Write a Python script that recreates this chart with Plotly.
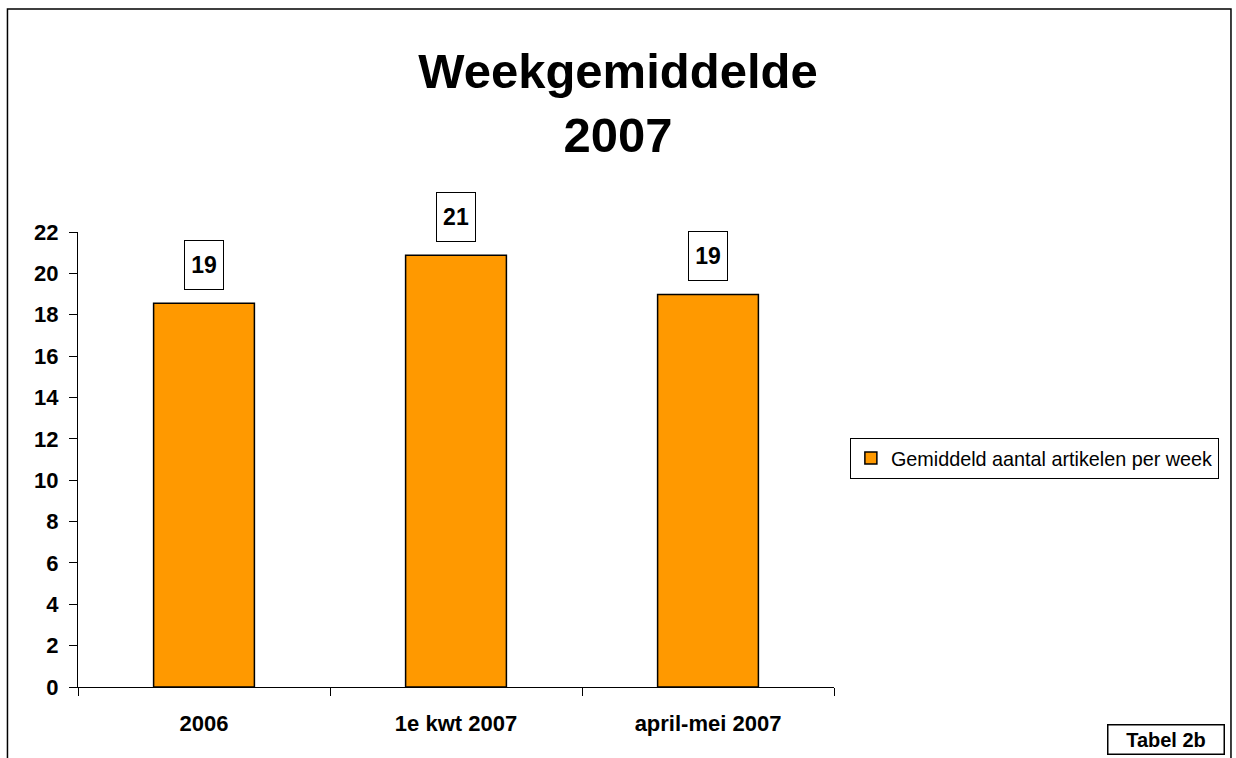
import plotly.graph_objects as go

categories = ["2006", "1e kwt 2007", "april-mei 2007"]
values = [18.56, 20.88, 18.98]
labels = [str(round(v)) for v in values]
series_name = "Gemiddeld aantal artikelen per week"
y_ticks = list(range(0, 23, 2))

FONT = "Liberation Sans, Arial, sans-serif"

fig = go.Figure()
fig.add_trace(go.Bar(
    x=categories, y=values, name=series_name, width=0.4,
    marker=dict(color="#FF9900", line=dict(color="black", width=1.5)),
    showlegend=True,
))

for i, (v, t) in enumerate(zip(values, labels)):
    fig.add_annotation(
        x=i, y=v, text="<b>%s</b>" % t, showarrow=False,
        yanchor="bottom", yshift=13, width=36, height=46,
        bordercolor="black", borderwidth=1, bgcolor="white",
        font=dict(family=FONT, size=23, color="black"),
    )

fig.add_annotation(
    xref="paper", yref="paper", x=1.4385, y=-0.1143,
    text="<b>Tabel 2b</b>", showarrow=False,
    xanchor="center", yanchor="middle", width=113, height=26,
    bordercolor="black", borderwidth=1.5, bgcolor="white",
    font=dict(family=FONT, size=20, color="black"),
)

fig.add_shape(type="rect", xref="paper", yref="paper",
              x0=-0.0933, x1=1.5251, y0=-0.3, y1=1.4901,
              line=dict(color="black", width=1.5), layer="below")

fig.update_layout(
    width=1236, height=758,
    margin=dict(l=78, r=402, t=232, b=71),
    paper_bgcolor="white", plot_bgcolor="white",
    font=dict(family=FONT, color="black"),
    title=dict(text="<b>Weekgemiddelde<br>2007</b>", x=0.5, xref="container",
               xanchor="center", y=0.884, yref="container", yanchor="top",
               font=dict(family=FONT, size=49, color="black")),
    legend=dict(x=1.021, xanchor="left", y=0.503, yanchor="middle",
                bordercolor="black", borderwidth=1, bgcolor="white",
                font=dict(family=FONT, size=19.8, color="black")),
)
fig.update_xaxes(
    type="category", categoryorder="array", categoryarray=categories,
    range=[-0.5, len(categories) - 0.5], automargin=False, tickangle=0,
    showline=True, linecolor="black", linewidth=1,
    ticks="outside", ticklen=8, tickcolor="black", tickson="boundaries",
    showgrid=False, ticklabelstandoff=17,
    tickfont=dict(family=FONT, size=22, color="black", weight="bold"),
)
fig.update_yaxes(
    range=[0, 22], tickvals=y_ticks, showline=True, linecolor="black", linewidth=1,
    ticks="outside", ticklen=8, tickcolor="black", automargin=False,
    showgrid=False, zeroline=False, ticklabelstandoff=6,
    tickfont=dict(family=FONT, size=22, color="black", weight="bold"),
)

fig.write_html("out.html", config={"displayModeBar": False},
               post_script="document.body.style.margin='0';document.body.style.overflow='hidden';")
